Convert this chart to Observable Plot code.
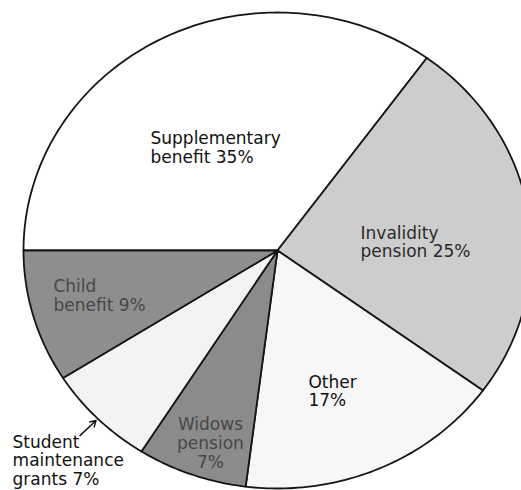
<!DOCTYPE html>
<html>
<head>
<meta charset="utf-8">
<script src="https://cdn.jsdelivr.net/npm/d3@7"></script>
<script src="https://cdn.jsdelivr.net/npm/@observablehq/plot@0.6"></script>
<style>
  html, body { margin: 0; padding: 0; background: #fff; }
  #chart svg { display: block; }
</style>
</head>
<body>
<div id="chart"></div>
<script>
// ---- data ----
const categories = ["Supplementary benefit", "Invalidity pension", "Other", "Widows pension", "Student maintenance grants", "Child benefit"];
const shares = [35, 25, 17, 7, 7, 9];
const labels = ["Supplementary\nbenefit 35%", "Invalidity\npension 25%", "Other\n17%", "Widows\npension\n7%", "Student\nmaintenance\ngrants 7%", "Child\nbenefit 9%"];

// ---- styles / layout ----
const fills = ["#ffffff", "#cdcdcd", "#f7f7f7", "#8b8b8b", "#f3f3f3", "#8e8e8e"];
const textColors = ["#111", "#2a2a2a", "#111", "#474747", "#111", "#474747"];
const startAngle = 270; // degrees clockwise from north: first slice starts at west
// label anchors in unit (ellipse) coordinates, top of first line
const labelX = [-0.50, 0.327, 0.122, -0.264, -1.043, -0.882];
const labelY = [0.504, 0.105, -0.521, -0.700, -0.773, -0.118];
const labelAnchor = ["start", "start", "start", "middle", "start", "start"];

// ---- geometry from data ----
const total = d3.sum(shares);
let acc = startAngle;
const slices = categories.map((c, i) => {
  const a0 = acc, a1 = acc + shares[i] / total * 360;
  acc = a1;
  return {name: c, a0, a1, fill: fills[i]};
});
const rad = (deg) => deg * Math.PI / 180;
const pts = [];
for (const s of slices) {
  pts.push({name: s.name, fill: s.fill, x: 0, y: 0});
  const n = Math.max(2, Math.ceil(s.a1 - s.a0));
  for (let k = 0; k <= n; k++) {
    const a = rad(s.a0 + (s.a1 - s.a0) * k / n);
    pts.push({name: s.name, fill: s.fill, x: Math.sin(a), y: Math.cos(a)});
  }
  pts.push({name: s.name, fill: s.fill, x: 0, y: 0});
}
const labelData = categories.map((c, i) => ({
  text: labels[i], x: labelX[i], y: labelY[i], anchor: labelAnchor[i], color: textColors[i]
}));
const student = slices[4];
const midA = rad((student.a0 + student.a1) / 2);
const arrowData = [{x1: 1.1 * Math.sin(midA), y1: 1.1 * Math.cos(midA), x2: 1.01 * Math.sin(midA), y2: 1.01 * Math.cos(midA)}];

const font = "'DejaVu Sans', sans-serif";
const textMark = (anchor) => Plot.text(labelData.filter(d => d.anchor === anchor), {
  x: "x", y: "y", text: "text", fill: "color",
  textAnchor: anchor, lineAnchor: "top", lineHeight: 1.1,
  fontSize: 17, fontFamily: font
});

const chart = Plot.plot({
  width: 521,
  height: 490,
  margin: 0,
  style: {background: "transparent", overflow: "visible"},
  x: {domain: [-1, 1], range: [23, 531], axis: null},
  y: {domain: [-1, 1], range: [488, 12], axis: null},
  marks: [
    Plot.line(pts, {x: "x", y: "y", z: "name", fill: "fill", stroke: "#151515", strokeWidth: 1.8, strokeLinejoin: "round", curve: "linear"}),
    textMark("start"),
    textMark("middle"),
    Plot.arrow(arrowData, {x1: "x1", y1: "y1", x2: "x2", y2: "y2", stroke: "#111", strokeWidth: 1.4, headLength: 7, bend: 0})
  ]
});
document.getElementById("chart").appendChild(chart);
</script>
</body>
</html>
